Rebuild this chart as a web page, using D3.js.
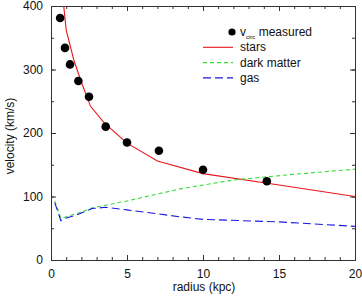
<!DOCTYPE html>
<html>
<head>
<meta charset="utf-8">
<script src="https://cdn.jsdelivr.net/npm/d3@7"></script>
<style>
  body { margin: 0; background: #fff; }
  svg { display: block; font-family: "Liberation Sans", Arial, sans-serif; }
</style>
</head>
<body>
<svg id="chart" width="362" height="300"></svg>
<script>
// measured circular velocity
const measuredR = [0.6, 0.92, 1.25, 1.8, 2.5, 3.6, 5.0, 7.1, 10.0, 14.2];
const measuredV = [381, 334, 308, 282, 257, 210, 185, 172, 142, 124];

// model components
const starsR = [0.75, 1.0, 1.5, 2.0, 2.6, 3.5, 5.0, 7.0, 10, 15, 20];
const starsV = [420, 362, 315, 280, 242, 216, 184, 156, 136, 118, 100];

const darkR = [0.25, 0.65, 1.0, 1.8, 2.7, 5.0, 8.5, 12, 16, 20];
const darkV = [93, 66, 68, 74, 82, 93, 112, 126, 135, 143];

const gasR = [0.25, 0.65, 1.0, 1.8, 2.7, 3.6, 5.0, 8.5, 10, 15, 20];
const gasV = [90, 62, 66, 72, 81, 83, 79, 68, 64, 60, 53];

const xTicks = [0, 5, 10, 15, 20];
const yTicks = [0, 100, 200, 300, 400];

const legendLabels = ["stars", "dark matter", "gas"];

const margin = { left: 51, right: 7, top: 6, bottom: 40 };
const W = 362, H = 300;
const svg = d3.select('#chart');

const x = d3.scaleLinear().domain([0, 20]).range([margin.left, W - margin.right]);
const y = d3.scaleLinear().domain([0, 400]).range([H - margin.bottom, margin.top]);

const FONT = 12;
const AXIS_COLOR = '#333';

svg.append('defs').append('clipPath').attr('id', 'plot-clip')
  .append('rect')
  .attr('x', x(0)).attr('y', y(400))
  .attr('width', x(20) - x(0)).attr('height', y(0) - y(400));

// axes: ticks pointing inward
function drawAxis(axis, transform, labels) {
  const g = svg.append('g').attr('transform', transform).call(axis);
  g.select('.domain').attr('stroke', AXIS_COLOR);
  g.selectAll('.tick line').attr('stroke', AXIS_COLOR);
  g.selectAll('text').attr('font-size', FONT).attr('fill', '#111')
    .attr('font-family', '"Liberation Sans", Arial, sans-serif');
  if (!labels) g.selectAll('text').remove();
  return g;
}

const minorX = d3.range(0, 21, 1);
const minorY = d3.range(0, 401, 50);

// bottom
drawAxis(d3.axisBottom(x).tickValues(minorX).tickSize(-3).tickFormat(''), `translate(0,${y(0)})`, false);
drawAxis(d3.axisBottom(x).tickValues(xTicks).tickSizeInner(-5).tickSizeOuter(0).tickPadding(9), `translate(0,${y(0)})`, true);
// top
drawAxis(d3.axisTop(x).tickValues(minorX).tickSize(-3).tickFormat(''), `translate(0,${y(400)})`, false);
drawAxis(d3.axisTop(x).tickValues(xTicks).tickSizeInner(-5).tickSizeOuter(0), `translate(0,${y(400)})`, false);
// left
drawAxis(d3.axisLeft(y).tickValues(minorY).tickSize(-3).tickFormat(''), `translate(${x(0)},0)`, false);
drawAxis(d3.axisLeft(y).tickValues(yTicks).tickSizeInner(-5).tickSizeOuter(0).tickPadding(8), `translate(${x(0)},0)`, true);
// right
drawAxis(d3.axisRight(y).tickValues(minorY).tickSize(-3).tickFormat(''), `translate(${x(20)},0)`, false);
drawAxis(d3.axisRight(y).tickValues(yTicks).tickSizeInner(-5).tickSizeOuter(0), `translate(${x(20)},0)`, false);

// axis titles
svg.append('text')
  .attr('x', (x(0) + x(20)) / 2 + 1).attr('y', H - 9)
  .attr('text-anchor', 'middle').attr('font-size', FONT).attr('fill', '#111')
  .text('radius (kpc)');

svg.append('text')
  .attr('transform', `translate(14,${(y(0) + y(400)) / 2 + 3}) rotate(-90)`)
  .attr('text-anchor', 'middle').attr('font-size', FONT).attr('fill', '#111')
  .text('velocity (km/s)');

// curves
const line = d3.line().x(d => x(d[0])).y(d => y(d[1]));
const plot = svg.append('g').attr('clip-path', 'url(#plot-clip)');

const series = [
  { r: starsR, v: starsV, color: '#e8161b', dash: null },
  { r: darkR, v: darkV, color: '#33dd33', dash: '4,3' },
  { r: gasR, v: gasV, color: '#1a1adc', dash: '8,4' }
];

series.forEach(s => {
  plot.append('path')
    .datum(s.r.map((r, i) => [r, s.v[i]]))
    .attr('d', line)
    .attr('fill', 'none')
    .attr('stroke', s.color)
    .attr('stroke-width', 1.1)
    .attr('stroke-dasharray', s.dash);
});

plot.selectAll('circle.meas')
  .data(measuredR.map((r, i) => [r, measuredV[i]]))
  .join('circle')
  .attr('class', 'meas')
  .attr('cx', d => x(d[0]))
  .attr('cy', d => y(d[1]))
  .attr('r', 4.3)
  .attr('fill', '#000');

// legend
const leg = svg.append('g').attr('transform', 'translate(203,32)');
const LEG_DY = 15.3;

leg.append('circle').attr('cx', 29).attr('cy', 0).attr('r', 3.6).attr('fill', '#000');
const t0 = leg.append('text').attr('x', 37).attr('y', 4).attr('font-size', FONT).attr('fill', '#111');
t0.append('tspan').text('v');
t0.append('tspan').attr('font-size', 6).attr('dy', 3).text('circ');
t0.append('tspan').attr('dy', -3).text(' measured');

legendLabels.forEach((lab, i) => {
  const s = series[i];
  const yy = (i + 1) * LEG_DY;
  leg.append('line')
    .attr('x1', 0).attr('x2', 30).attr('y1', yy).attr('y2', yy)
    .attr('stroke', s.color).attr('stroke-width', 1.1)
    .attr('stroke-dasharray', s.dash);
  leg.append('text')
    .attr('x', 37).attr('y', yy + 4)
    .attr('font-size', FONT).attr('fill', '#111')
    .text(lab);
});
</script>
</body>
</html>
